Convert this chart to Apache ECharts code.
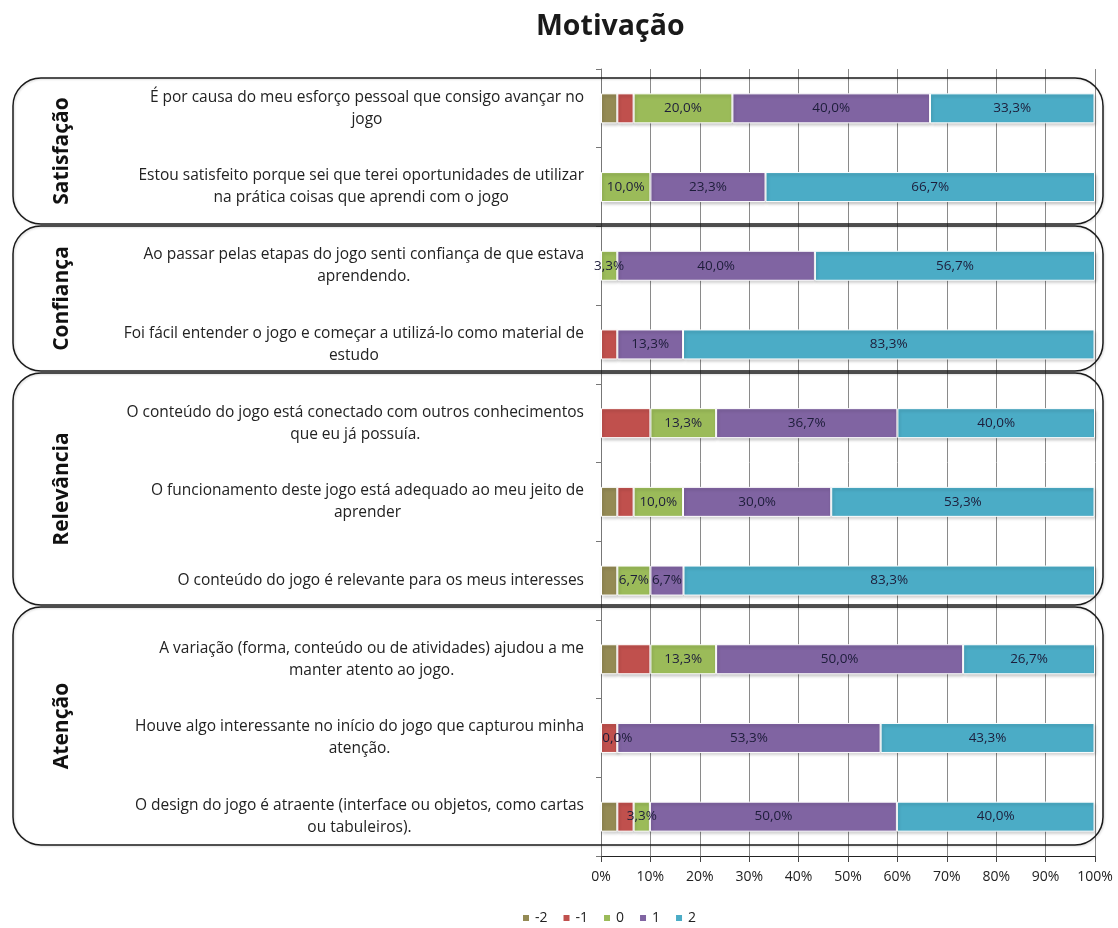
<!DOCTYPE html>
<html><head><meta charset="utf-8">
<script src="https://cdn.jsdelivr.net/npm/echarts@6/dist/echarts.min.js"></script>
<style>html,body{margin:0;padding:0;background:#fff}#c{width:1118px;height:928px}</style>
</head><body><div id="c"></div>
<script>
const categories = [
  'É por causa do meu esforço pessoal que consigo avançar no\njogo',
  'Estou satisfeito porque sei que terei oportunidades de utilizar\nna prática coisas que aprendi com o jogo',
  'Ao passar pelas etapas do jogo senti confiança de que estava\naprendendo.',
  'Foi fácil entender o jogo e começar a utilizá-lo como material de\nestudo',
  'O conteúdo do jogo está conectado com outros conhecimentos\nque eu já possuía.',
  'O funcionamento deste jogo está adequado ao meu jeito de\naprender',
  'O conteúdo do jogo é relevante para os meus interesses',
  'A variação (forma, conteúdo ou de atividades) ajudou a me\nmanter atento ao jogo.',
  'Houve algo interessante no início do jogo que capturou minha\natenção.',
  'O design do jogo é atraente (interface ou objetos, como cartas\nou tabuleiros).'
];
const levelNames = ['-2', '-1', '0', '1', '2'];
const valuesM2 = [3.3, null, null, null, null, 3.3, 3.3, 3.3, null, 3.3];
const valuesM1 = [3.3, null, null, 3.3, 10.0, 3.3, null, 6.7, 3.3, 3.3];
const values0  = [20.0, 10.0, 3.3, null, 13.3, 10.0, 6.7, 13.3, 0.0, 3.3];
const values1  = [40.0, 23.3, 40.0, 13.3, 36.7, 30.0, 6.7, 50.0, 53.3, 50.0];
const values2  = [33.3, 66.7, 56.7, 83.3, 40.0, 53.3, 83.3, 26.7, 43.3, 40.0];
const groupNames = ['Satisfação', 'Confiança', 'Relevância', 'Atenção'];
const titleText = 'Motivação';

const colors = ['#948A54', '#C0504D', '#9BBB59', '#8064A2', '#4BACC6'];
const seriesValues = [valuesM2, valuesM1, values0, values1, values2];
const showLabel = [false, false, true, true, true];
const FONT = '"Open Sans", sans-serif';

const chart = echarts.init(document.getElementById('c'), null, {renderer: 'canvas'});

const series = levelNames.map((name, k) => ({
  name: name,
  type: 'bar',
  stack: 'total',
  barWidth: 30,
  data: seriesValues[k],
  itemStyle: {
    color: colors[k],
    borderColor: '#ffffff',
    borderWidth: 1,
    shadowColor: 'rgba(0,0,0,0.22)',
    shadowBlur: 3,
    shadowOffsetX: 1,
    shadowOffsetY: 2
  },
  label: {
    show: showLabel[k],
    position: 'inside',
    color: '#1d1d3a',
    fontFamily: FONT,
    fontSize: 13.5,
    formatter: p => (p.value == null ? '' : p.value.toFixed(1).replace('.', ',') + '%')
  }
}));

chart.setOption({
  animation: false,
  backgroundColor: '#ffffff',
  title: {
    text: titleText,
    left: 531, top: 7,
    textStyle: {fontFamily: FONT, fontWeight: 'bold', fontSize: 28.5, color: '#1a1a1a'}
  },
  legend: {
    data: levelNames,
    left: 516, top: 906,
    icon: 'rect', itemWidth: 8, itemHeight: 8, itemGap: 14,
    textStyle: {fontFamily: FONT, fontSize: 14, color: '#222'}
  },
  grid: {left: 601, right: 23, top: 69, bottom: 72, containLabel: false},
  xAxis: {
    type: 'value', min: 0, max: 100, interval: 10,
    axisLine: {show: true, lineStyle: {color: '#222', width: 1}},
    axisTick: {show: true, length: 6, lineStyle: {color: '#444'}},
    axisLabel: {formatter: '{value}%', margin: 14, fontFamily: FONT, fontSize: 14, color: '#222'},
    splitLine: {show: true, lineStyle: {color: '#8a8a8a', width: 1}}
  },
  yAxis: {
    type: 'category', inverse: true, data: categories,
    axisLine: {show: true, lineStyle: {color: '#777'}},
    axisTick: {show: true, length: 5, lineStyle: {color: '#777'}},
    axisLabel: {
      margin: 17,
      formatter: v => v.split('\n').map(s => '{c|' + s + '}').join('\n'),
      rich: {c: {align: 'center', fontFamily: FONT, fontSize: 15.5, color: '#222', lineHeight: 22}}
    }
  },
  series: series
});

// Group boxes (decoration), vertical extents in pixels
const boxBounds = [[78, 224], [226, 371], [373, 605], [607, 845]];
const graphics = [];
boxBounds.forEach((b, i) => {
  graphics.push({
    type: 'rect', z: 100,
    shape: {x: 13, y: b[0], width: 1090, height: b[1] - b[0], r: 28},
    style: {fill: 'none', stroke: '#1a1a1a', lineWidth: 1.5,
      shadowColor: 'rgba(0,0,0,0.15)', shadowBlur: 2, shadowOffsetX: 1, shadowOffsetY: 1}
  });
  graphics.push({
    type: 'text', z: 101,
    x: 62, y: (b[0] + b[1]) / 2, rotation: Math.PI / 2,
    style: {text: groupNames[i], fontFamily: FONT, fontWeight: 'bold', fontSize: 21,
      fill: '#111', align: 'center', verticalAlign: 'middle'}
  });
});
chart.setOption({graphic: graphics});
</script>
</body></html>
